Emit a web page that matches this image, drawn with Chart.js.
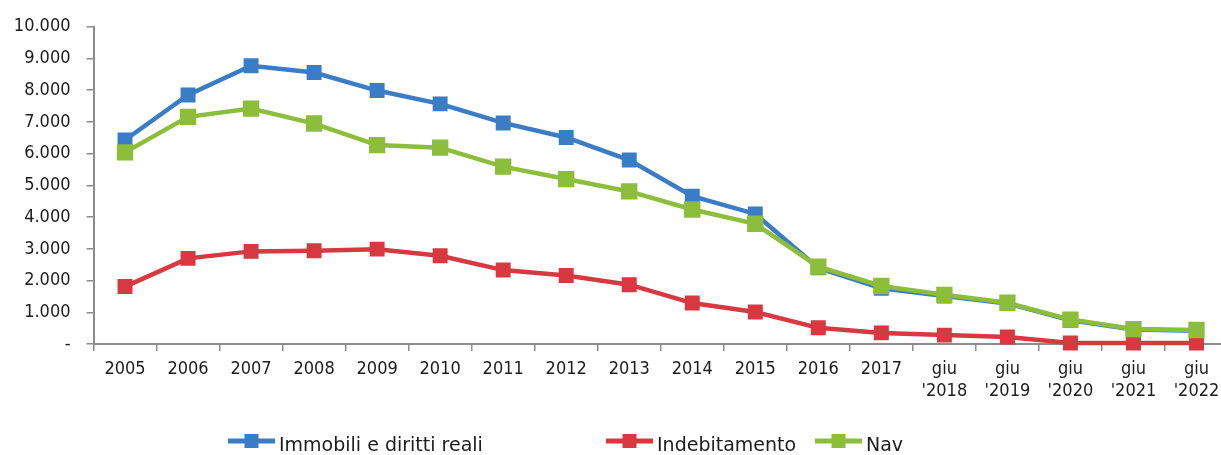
<!DOCTYPE html>
<html>
<head>
<meta charset="utf-8">
<script src="https://cdn.jsdelivr.net/npm/chart.js@4/dist/chart.umd.min.js"></script>
<style>
  html, body { margin: 0; padding: 0; background: #ffffff; overflow: hidden; }
  #wrap { width: 1240px; height: 455px; position: relative; }
</style>
</head>
<body>
<div id="wrap"><canvas id="chart"></canvas></div>
<script>
// Categories (x axis)
const categories = [
  '2005', '2006', '2007', '2008', '2009', '2010', '2011', '2012', '2013',
  '2014', '2015', '2016', '2017',
  ['giu', "'2018"], ['giu', "'2019"], ['giu', "'2020"], ['giu', "'2021"], ['giu', "'2022"]
];

// Series values
const immobili = [6430, 7850, 8770, 8560, 7990, 7570, 6970, 6510, 5800, 4660, 4100, 2400, 1760, 1510, 1280, 750, 460, 420];
const indebitamento = [1810, 2700, 2920, 2940, 2990, 2780, 2330, 2160, 1870, 1290, 1010, 510, 350, 280, 220, 30, 30, 30];
const nav = [6040, 7160, 7420, 6950, 6270, 6190, 5590, 5200, 4810, 4240, 3790, 2440, 1830, 1550, 1300, 770, 470, 440];

// Y tick values
const yTicks = [0, 1000, 2000, 3000, 4000, 5000, 6000, 7000, 8000, 9000, 10000];

const seriesNames = ['Immobili e diritti reali', 'Indebitamento', 'Nav'];

const FONT = '"DejaVu Sans Condensed", "DejaVu Sans", sans-serif';
const LEGEND_FONT = '"DejaVu Sans", sans-serif';
const BLUE = '#3b7cc7';
const RED = '#d8383f';
const GREEN = '#8cbe3c';
const AXIS = '#8c8c8c';
const TEXT = '#1c1c1c';

function fmtThousands(v) {
  if (v === 0) return '-';
  return String(v).replace(/\B(?=(\d{3})+(?!\d))/g, '.');
}

function lineDataset(label, data, color, order, pr) {
  return {
    label, data,
    borderColor: color, backgroundColor: color,
    borderWidth: 4.5, pointStyle: 'rect',
    pointRadius: pr, pointHoverRadius: pr, pointBorderWidth: 1.5,
    pointBorderColor: color, pointBackgroundColor: color,
    tension: 0, order, clip: false
  };
}

// Legend below the plot: a short line with a square marker, then the series name
const bottomLegend = {
  id: 'bottomLegend',
  afterDraw(chart) {
    const ctx = chart.ctx;
    const starts = [228, 606, 815];
    const y = 441;
    ctx.save();
    chart.data.datasets.forEach((ds, i) => {
      const x0 = starts[i];
      ctx.strokeStyle = ds.borderColor;
      ctx.lineWidth = 5;
      ctx.beginPath(); ctx.moveTo(x0, y); ctx.lineTo(x0 + 47, y); ctx.stroke();
      ctx.fillStyle = ds.borderColor;
      ctx.fillRect(x0 + 23.5 - 7, y - 7, 14, 14);
      ctx.fillStyle = TEXT;
      ctx.font = '19px ' + LEGEND_FONT;
      ctx.textBaseline = 'alphabetic';
      ctx.textAlign = 'left';
      ctx.fillText(ds.label, x0 + 51, 451);
    });
    ctx.restore();
  }
};

const ctx = document.getElementById('chart').getContext('2d');
new Chart(ctx, {
  type: 'line',
  data: {
    labels: categories,
    datasets: [
      lineDataset(seriesNames[0], immobili, BLUE, 2, 9.5),
      lineDataset(seriesNames[1], indebitamento, RED, 1, 9.5),
      lineDataset(seriesNames[2], nav, GREEN, 0, 10.5)
    ]
  },
  options: {
    responsive: true, maintainAspectRatio: false, animation: false,
    layout: { padding: { left: 0, right: 0, top: 22.3, bottom: 0 } },
    plugins: { legend: { display: false }, tooltip: { enabled: false } },
    scales: {
      x: {
        offset: true,
        grid: { offset: true, drawOnChartArea: false, drawTicks: true, tickLength: 7, color: AXIS, lineWidth: 1.5 },
        border: { color: AXIS, width: 2 },
        ticks: { color: TEXT, font: { family: FONT, size: 18, lineHeight: 1.2 }, padding: 7.5, maxRotation: 0, autoSkip: false },
        afterFit(scale) { scale.height = 111; }
      },
      y: {
        min: 0, max: 10000,
        afterBuildTicks(scale) { scale.ticks = yTicks.map(v => ({ value: v })); },
        grid: { drawOnChartArea: false, drawTicks: true, tickLength: 7, color: AXIS, lineWidth: 1.5 },
        border: { color: AXIS, width: 2 },
        ticks: { color: TEXT, font: { family: FONT, size: 18 }, padding: 16, callback: (v) => fmtThousands(v) },
        afterFit(scale) { scale.width = 93.5; }
      }
    }
  },
  plugins: [bottomLegend]
});
</script>
</body>
</html>
